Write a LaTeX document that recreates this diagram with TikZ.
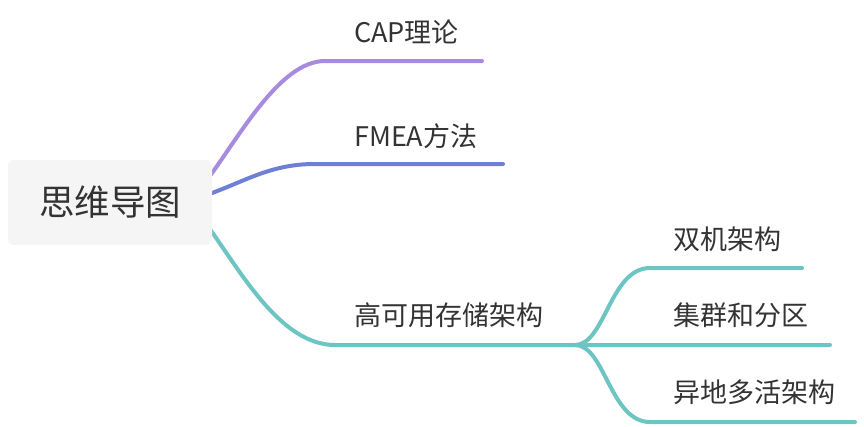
\documentclass[tikz,border=0pt]{standalone}
\usepackage{fontspec}
\setmainfont{Noto Sans CJK SC}
\usepackage{tikz}
\usetikzlibrary{positioning, calc, backgrounds}

\definecolor{cappurple}{HTML}{A68BDF}
\definecolor{fmeablue}{HTML}{6E7FD8}
\definecolor{storeteal}{HTML}{6CC4C3}
\definecolor{rootgray}{HTML}{F5F5F5}
\definecolor{textgray}{HTML}{333333}

\begin{document}
\begin{tikzpicture}[x=1pt, y=-1pt,
        rootbox/.style={rectangle, rounded corners=6pt, fill=rootgray, minimum width=204pt, minimum height=85pt, text=textgray, font=\fontsize{35.5}{35.5}\selectfont},
        topic/.style={anchor=base west, inner sep=0pt, text=textgray, font=\fontsize{27}{27}\selectfont},
        branch/.style={line width=4pt, line cap=round}]

        \useasboundingbox (0,0) rectangle (864,426);

        \node[rootbox] (root) at (110,202.5) {思维导图};

        % branch starts hidden behind the root box
        \coordinate (cap-0) at ($(root.east)+(-7,-20)$);
        \coordinate (fmea-0) at ($(root.east)+(-7,-7)$);
        \coordinate (store-0) at ($(root.east)+(-7,20)$);

        % underlines
        \coordinate (cap-s) at (325,61);   \coordinate (cap-e) at (482,61);
        \coordinate (fmea-s) at (315,164); \coordinate (fmea-e) at (503,164);
        \coordinate (store-s) at (335,345); \coordinate (fork) at (575,345);
        \coordinate (dual-s) at (650,268); \coordinate (dual-e) at (802,268);
        \coordinate (cluster-e) at (830,345);
        \coordinate (geo-s) at (650,422);  \coordinate (geo-e) at (855,422);

        \node[topic] (cap) at (354,42) {CAP理论};
        \node[topic] (fmea) at (354,146) {FMEA方法};
        \node[topic] (store) at (354,325) {高可用存储架构};
        \node[topic] (dual) at (673,249) {双机架构};
        \node[topic] (cluster) at (673,325) {集群和分区};
        \node[topic] (geo) at (673,402) {异地多活架构};

        \begin{scope}[on background layer]
          \draw[branch, cappurple] (cap-0) .. controls +(35,-47) and +(-45,0) .. (cap-s) -- (cap-e);
          \draw[branch, fmeablue] (fmea-0) .. controls +(40,-14) and +(-45,0) .. (fmea-s) -- (fmea-e);
          \draw[branch, storeteal] (store-0) .. controls +(35,48) and +(-55,0) .. (store-s) -- (cluster-e);
          \draw[branch, storeteal] (fork) .. controls +(30,0) and +(-40,0) .. (dual-s) -- (dual-e);
          \draw[branch, storeteal] (fork) .. controls +(30,0) and +(-40,0) .. (geo-s) -- (geo-e);
        \end{scope}
      \end{tikzpicture}
\end{document}
